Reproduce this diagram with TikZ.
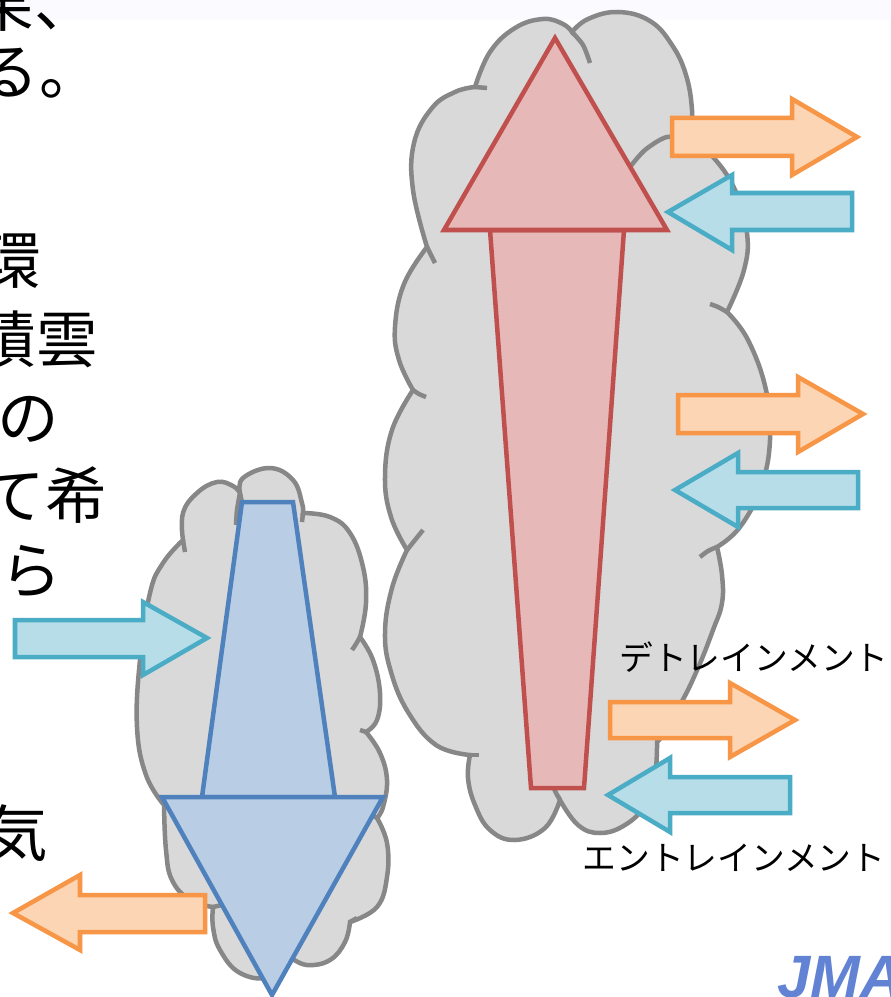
\documentclass[tikz,border=0pt]{standalone}
\usepackage{fontspec}
\setmainfont{Noto Sans CJK JP}
\newfontfamily\logofont{Liberation Sans}
\usepackage{xcolor}
\usepackage{tikz}

\definecolor{cloudfill}{HTML}{D9D9D9}
\definecolor{cloudedge}{HTML}{878787}
\definecolor{upfill}{HTML}{E6B9B8}
\definecolor{upedge}{HTML}{C0504D}
\definecolor{downfill}{HTML}{B9CDE5}
\definecolor{downedge}{HTML}{4F81BD}
\definecolor{outfill}{HTML}{FCD5B5}
\definecolor{outedge}{HTML}{F79646}
\definecolor{infill}{HTML}{B7DEE8}
\definecolor{inedge}{HTML}{4BACC6}
\definecolor{logoblue}{HTML}{6283D3}

\begin{document}
\begin{tikzpicture}[x=0.01cm, y=-0.01cm, line width=0.045cm,
        cloud/.style={draw=cloudedge, fill=cloudfill},
        tick/.style={draw=cloudedge, smooth},
        updraft/.style={draw=upedge, fill=upfill},
        downdraft/.style={draw=downedge, fill=downfill},
        outflow/.style={draw=outedge, fill=outfill},
        inflow/.style={draw=inedge, fill=infill},
        bodytext/.style={inner sep=0pt, anchor=base east, font=\fontsize{17.5pt}{17.5pt}\selectfont},
        label/.style={inner sep=0pt, font=\fontsize{9.6pt}{9.6pt}\selectfont}]
    \useasboundingbox (0,0) rectangle (890,997);
    \clip (0,0) rectangle (890,997);
    \fill[white] (0,0) rectangle (890,997);
    \fill[blue!2!white] (0,0) rectangle (890,20);

    % text running in from the left
    \node[bodytext] (t1) at (98,27) {果、};
    \node[bodytext] (t2) at (103,95) {る。};
    \node[bodytext] (t3) at (43,284) {環};
    \node[bodytext] (t4) at (100,362) {積雲};
    \node[bodytext] (t5) at (61,440) {の};
    \node[bodytext] (t6) at (109,518) {て希};
    \node[bodytext] (t7) at (64,593) {れら};
    \node[bodytext] (t8) at (50,856) {気};

    % tall cloud
    \path[cloud] plot[smooth, tension=0.7] coordinates {(475,87) (490,52) (515,28) (543,19) (563,24) (572,32)}
        -- plot[smooth, tension=0.7] coordinates {(572,32) (588,19) (618,12) (650,21) (672,45) (686,75) (692,110) (691,140)}
        -- plot[smooth, tension=0.7] coordinates {(691,140) (713,157) (735,190) (747,233) (744,270) (727,312)}
        -- plot[smooth, tension=0.7] coordinates {(727,312) (748,340) (766,390) (770,440) (761,487) (740,527) (717,547)}
        -- plot[smooth, tension=0.7] coordinates {(717,547) (722,575) (722,603) (713,630) (698,668) (680,705) (657,742)}
        -- plot[smooth, tension=0.7] coordinates {(657,742) (655,775) (645,805) (625,825) (600,833) (578,825) (560,800)}
        -- plot[smooth, tension=0.7] coordinates {(560,800) (545,828) (515,840) (490,830) (475,805) (468,778) (470,755)}
        -- plot[smooth, tension=0.7] coordinates {(470,755) (436,745) (408,712) (391,672) (385,633) (392,588) (407,550)}
        -- plot[smooth, tension=0.7] coordinates {(407,550) (391,517) (385,477) (392,430) (413,390)}
        -- plot[smooth, tension=0.7] coordinates {(413,390) (399,360) (395,327) (404,284) (427,247)}
        -- plot[smooth, tension=0.7] coordinates {(427,247) (413,190) (414,143) (432,108) (455,92) (475,87)}
        -- cycle;
    \path[tick] plot coordinates {(475,87) (487,88)};
    \path[tick] plot coordinates {(572,32) (583,45) (590,63)};
    \path[tick] plot coordinates {(691,140) (667,137) (645,150) (630,167)};
    \path[tick] plot coordinates {(727,312) (718,307) (710,304)};
    \path[tick] plot coordinates {(717,547) (708,551) (700,557)};
    \path[tick] plot coordinates {(657,742) (662,737) (667,733)};
    \path[tick] plot coordinates {(560,800) (556,793) (553,786)};
    \path[tick] plot coordinates {(470,755) (479,755)};
    \path[tick] plot coordinates {(407,550) (415,540) (423,530)};
    \path[tick] plot coordinates {(413,390) (419,394) (426,397)};
    \path[tick] plot coordinates {(427,247) (431,255) (435,263)};

    % small cloud
    \path[cloud] plot[smooth, tension=0.7] coordinates {(240,493) (243,478) (270,468) (293,480) (302,503) (303,513)}
        -- plot[smooth, tension=0.7] coordinates {(303,513) (330,517) (350,533) (363,567) (366,603) (360,637)}
        -- plot[smooth, tension=0.7] coordinates {(360,637) (373,660) (380,693) (377,720) (366,732)}
        -- plot[smooth, tension=0.7] coordinates {(366,732) (380,753) (387,780) (383,807) (377,818)}
        -- plot[smooth, tension=0.7] coordinates {(377,818) (387,843) (387,877) (377,907) (350,922)}
        -- plot[smooth, tension=0.7] coordinates {(350,922) (345,942) (330,960) (307,965) (290,957)}
        -- plot[smooth, tension=0.7] coordinates {(290,957) (270,977) (240,973) (220,950) (213,927) (213,907)}
        -- plot[smooth, tension=0.7] coordinates {(213,907) (190,900) (172,880) (166,850) (164,805)}
        -- plot[smooth, tension=0.7] coordinates {(164,805) (146,775) (137,727) (140,660) (150,593) (163,563) (183,540)}
        -- plot[smooth, tension=0.7] coordinates {(183,540) (183,513) (197,493) (217,482) (233,486) (240,493)}
        -- cycle;
    \path[tick] plot coordinates {(240,493) (237,510) (236,525)};
    \path[tick] plot coordinates {(303,513) (302,522)};
    \path[tick] plot coordinates {(360,637) (356,644) (352,650)};
    \path[tick] plot coordinates {(366,732) (360,730)};
    \path[tick] plot coordinates {(377,818) (372,815)};
    \path[tick] plot coordinates {(350,922) (357,918)};
    \path[tick] plot coordinates {(290,957) (286,950)};
    \path[tick] plot coordinates {(213,907) (222,905)};
    \path[tick] plot coordinates {(164,805) (172,803)};
    \path[tick] plot coordinates {(183,540) (185,552)};

    % updraft and downdraft
    \path[updraft] (490,230) -- (624,230) -- (584,788) -- (531,788) -- cycle;
    \path[updraft] (444,230) -- (555,38) -- (667,230) -- cycle;
    \path[downdraft] (242,502) -- (293,502) -- (335,797) -- (202,797) -- cycle;
    \path[downdraft] (162,797) -- (383,797) -- (272,995) -- cycle;

    % detrainment
    \path[outflow] (672,118) -- (792,118) -- (792,99) -- (857,137) -- (792,175) -- (792,156) -- (672,156) -- cycle;
    \path[outflow] (678,395) -- (798,395) -- (798,377) -- (863,414) -- (798,452) -- (798,433) -- (678,433) -- cycle;
    \path[outflow] (610,702) -- (730,702) -- (730,683) -- (795,720) -- (730,757) -- (730,738) -- (610,738) -- cycle;
    \path[outflow] (205,895) -- (80,895) -- (80,875) -- (13,913) -- (80,950) -- (80,932) -- (205,932) -- cycle;

    % entrainment
    \path[inflow] (852,193) -- (732,193) -- (732,175) -- (668,212) -- (732,250) -- (732,230) -- (852,230) -- cycle;
    \path[inflow] (858,472) -- (738,472) -- (738,453) -- (675,490) -- (738,527) -- (738,508) -- (858,508) -- cycle;
    \path[inflow] (790,777) -- (670,777) -- (670,758) -- (608,795) -- (670,832) -- (670,813) -- (790,813) -- cycle;
    \path[inflow] (15,620) -- (143,620) -- (143,602) -- (207,638) -- (143,675) -- (143,657) -- (15,657) -- cycle;

    \node[label] (detrain) at (754,657) {デトレインメント};
    \node[label] (entrain) at (734,858) {エントレインメント};

    \node[inner sep=0pt, anchor=base west, text=logoblue,
          font=\logofont\bfseries\itshape\fontsize{17pt}{17pt}\selectfont] (logo) at (775,997) {JMA};
\end{tikzpicture}
\end{document}
